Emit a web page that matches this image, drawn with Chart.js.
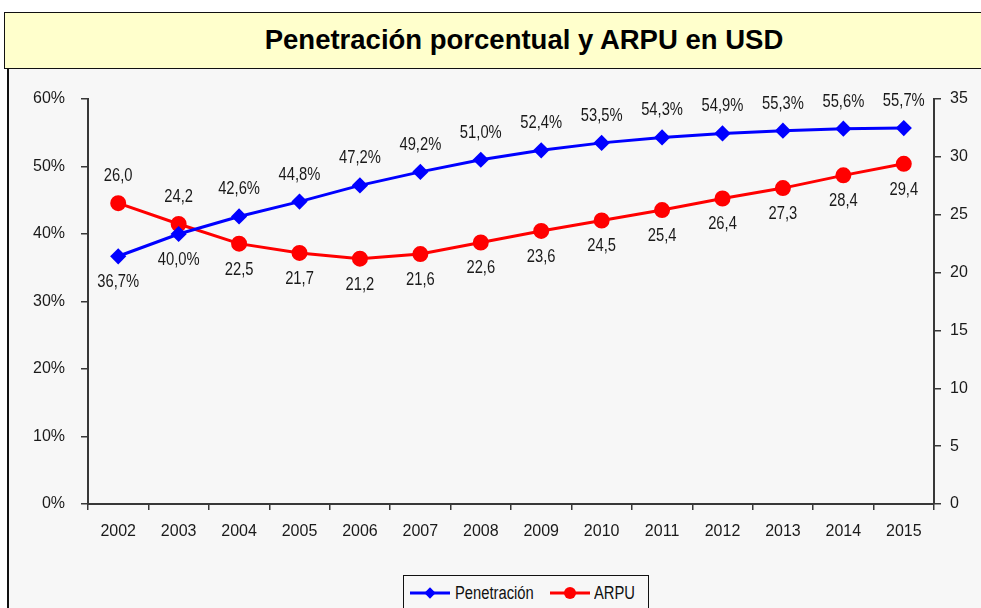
<!DOCTYPE html>
<html lang="es">
<head>
    <meta charset="UTF-8">
    <title>Penetración porcentual y ARPU en USD</title>
    <script src="https://cdn.jsdelivr.net/npm/chart.js"></script>
    <style>
        body {
            margin: 0;
            width: 981px;
            height: 608px;
            overflow: hidden;
            background: #ffffff;
            font-family: "Liberation Sans", Arial, sans-serif;
            position: relative;
        }
        #titleBox {
            position: absolute;
            left: 4px;
            top: 12px;
            width: 1040px;
            height: 57px;
            background: #ffffcc;
            border: 1.5px solid #111;
            box-sizing: border-box;
            text-align: center;
            line-height: 54px;
            font-weight: bold;
            font-size: 27.5px;
            color: #000;
        }
        #panel {
            position: absolute;
            left: 7px;
            top: 69px;
            width: 1000px;
            height: 600px;
            background: #f7f7f7;
            border-left: 2px solid #111;
        }
        #chartBox {
            position: absolute;
            left: 8px;
            top: 71px;
            width: 973px;
            height: 537px;
        }
        #legend {
            position: absolute;
            left: 403px;
            top: 575px;
            width: 246px;
            height: 50px;
            border: 1.5px solid #111;
            box-sizing: border-box;
            background: #f7f7f7;
            color: #111;
        }
        #legend svg { position: absolute; top: 10px; }
        #legend .txt {
            position: absolute;
            top: 4px;
            font-size: 18px;
            line-height: 26px;
            white-space: nowrap;
            transform: scaleX(0.82);
            transform-origin: left center;
        }
    </style>
</head>
<body>
    <div id="titleBox">Penetración porcentual y ARPU en USD</div>
    <div id="panel"></div>
    <div id="chartBox"><canvas id="myChart"></canvas></div>
    <div id="legend">
        <svg style="left:6px" width="42" height="14"><line x1="0" y1="7" x2="40" y2="7" stroke="#0000ff" stroke-width="3"/><rect x="16" y="3" width="8" height="8" fill="#0000ff" transform="rotate(45 20 7)"/></svg>
        <span class="txt" style="left:51px">Penetración</span>
        <svg style="left:146px" width="42" height="14"><line x1="0" y1="7" x2="40" y2="7" stroke="#ff0000" stroke-width="3"/><circle cx="20" cy="7" r="6" fill="#ff0000"/></svg>
        <span class="txt" style="left:190px">ARPU</span>
    </div>

    <script>
        // data
        const years = ['2002', '2003', '2004', '2005', '2006', '2007', '2008',
                       '2009', '2010', '2011', '2012', '2013', '2014', '2015'];
        const penetracion = [36.7, 40.0, 42.6, 44.8, 47.2, 49.2, 51.0, 52.4, 53.5, 54.3, 54.9, 55.3, 55.6, 55.7];
        const arpu = [26.0, 24.2, 22.5, 21.7, 21.2, 21.6, 22.6, 23.6, 24.5, 25.4, 26.4, 27.3, 28.4, 29.4];
        const leftTicks = [0, 10, 20, 30, 40, 50, 60];
        const rightTicks = [0, 5, 10, 15, 20, 25, 30, 35];

        const fontFam = '"Liberation Sans", Arial, sans-serif';
        const axisColor = '#383838';
        const textColor = '#1a1a1a';

        // value labels: the upper series gets its label above the point, the lower one below
        const valueLabels = {
            id: 'valueLabels',
            afterDatasetsDraw(chart) {
                const ctx = chart.ctx;
                const m0 = chart.getDatasetMeta(0).data;
                const m1 = chart.getDatasetMeta(1).data;
                const put = (txt, x, y) => {
                    ctx.save();
                    ctx.translate(x, y);
                    ctx.scale(0.82, 1);   // narrow look of the original font
                    ctx.fillText(txt, 0, 0);
                    ctx.restore();
                };
                ctx.save();
                ctx.font = '18px ' + fontFam;
                ctx.fillStyle = textColor;
                ctx.textAlign = 'center';
                ctx.textBaseline = 'middle';
                for (let i = 0; i < years.length; i++) {
                    const p = m0[i], a = m1[i];
                    const penAbove = p.y < a.y;
                    put(penetracion[i].toFixed(1).replace('.', ',') + '%', p.x, p.y + (penAbove ? -27 : 26));
                    put(arpu[i].toFixed(1).replace('.', ','), a.x, a.y + (penAbove ? 26 : -27));
                }
                ctx.restore();
            }
        };

        const tickFont = { family: fontFam, size: 16 };

        const ctx = document.getElementById('myChart').getContext('2d');
        const myChart = new Chart(ctx, {
            type: 'line',
            data: {
                labels: years,
                datasets: [{
                    label: 'Penetración',
                    data: penetracion,
                    yAxisID: 'y',
                    borderColor: '#0000ff',
                    backgroundColor: '#0000ff',
                    borderWidth: 3,
                    pointStyle: 'rectRot',
                    pointRadius: 6,
                    tension: 0
                }, {
                    label: 'ARPU',
                    data: arpu,
                    yAxisID: 'y1',
                    borderColor: '#ff0000',
                    backgroundColor: '#ff0000',
                    borderWidth: 3,
                    pointStyle: 'circle',
                    pointRadius: 6.5,
                    tension: 0
                }]
            },
            options: {
                responsive: true,
                maintainAspectRatio: false,
                animation: false,
                layout: { padding: { top: 28, left: 0, right: 0, bottom: 0 } },
                plugins: {
                    legend: { display: false },
                    title: { display: false },
                    tooltip: { enabled: false }
                },
                scales: {
                    x: {
                        offset: true,
                        grid: { offset: true, drawOnChartArea: false, tickLength: 6, color: axisColor, lineWidth: 1.5 },
                        border: { color: axisColor, width: 2 },
                        ticks: { color: textColor, font: tickFont, padding: 12, maxRotation: 0 },
                        afterFit: s => { s.height = 104; }
                    },
                    y: {
                        position: 'left',
                        min: 0,
                        max: 60,
                        afterBuildTicks: s => { s.ticks = leftTicks.map(v => ({ value: v })); },
                        grid: { drawOnChartArea: false, tickLength: 7, color: axisColor, lineWidth: 1.5 },
                        border: { color: axisColor, width: 2 },
                        ticks: { color: textColor, font: tickFont, padding: 16, callback: v => v + '%' },
                        afterFit: s => { s.width = 80; }
                    },
                    y1: {
                        position: 'right',
                        min: 0,
                        max: 35,
                        afterBuildTicks: s => { s.ticks = rightTicks.map(v => ({ value: v })); },
                        grid: { drawOnChartArea: false, tickLength: 7, color: axisColor, lineWidth: 1.5 },
                        border: { color: axisColor, width: 2 },
                        ticks: { color: textColor, font: tickFont, padding: 9 },
                        afterFit: s => { s.width = 47; }
                    }
                }
            },
            plugins: [valueLabels]
        });
    </script>
</body>
</html>
